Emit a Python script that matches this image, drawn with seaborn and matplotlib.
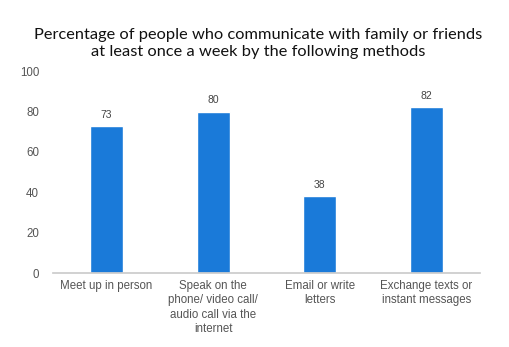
import matplotlib
matplotlib.use("Agg")
import matplotlib.pyplot as plt
import seaborn as sns
import pandas as pd

categories = ["Meet up in person",
              "Speak on the\nphone/ video call/\naudio call via the\ninternet",
              "Email or write\nletters",
              "Exchange texts or\ninstant messages"]
values = [73, 80, 38, 82]
yticks = [0, 20, 40, 60, 80, 100]
title = "Percentage of people who communicate with family or friends\nat least once a week by the following methods"

sns.set_theme(style="white")
plt.rcParams['font.family'] = ['Liberation Sans', 'DejaVu Sans']

df = pd.DataFrame({"cat": categories, "val": values})
fig = plt.figure(figsize=(5.1, 3.47), dpi=100)
ax = fig.add_axes([0.104, 0.213, 0.837, 0.582])
sns.barplot(data=df, x="cat", y="val", color="#1a7ad9", width=0.31, ax=ax, saturation=1)
ax.set_ylim(0, 100)
ax.set_yticks(yticks)
ax.set_xlabel("")
ax.set_ylabel("")
for s in ["top", "right", "left"]:
    ax.spines[s].set_visible(False)
ax.spines["bottom"].set_color("#cccccc")
ax.tick_params(axis="both", length=0, labelsize=8.3, colors="#555555", pad=5)
ax.tick_params(axis="y", pad=10)
for lbl in ax.get_xticklabels():
    lbl.set_linespacing(1.25)
for i, v in enumerate(values):
    ax.text(i, v + 3, str(v), ha="center", va="bottom", fontsize=7.5, color="#444444")
fig.text(0.506, 0.874, title, ha="center", va="center", fontsize=11.8,
         family=["Lato", "DejaVu Sans"], color="#111111", linespacing=1.3)
fig.savefig("out.png", dpi=100)
